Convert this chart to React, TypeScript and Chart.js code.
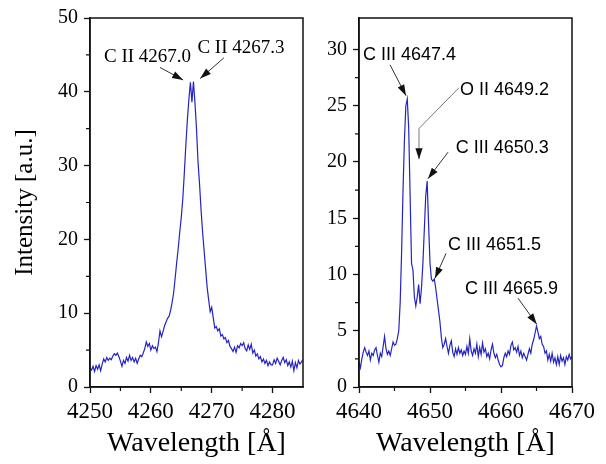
import React, { useEffect, useRef } from "react";
import { Chart, registerables } from "chart.js";

Chart.register(...registerables);

// ---------- data ----------
const LEFT_START = 4250;
const LEFT_STEP = 0.25;
const leftIntensity = [
  2.6, 2.3, 2.8, 2.1,
  2.9, 2.4, 3.0, 2.2,
  3.1, 3.8, 3.4, 4.0,
  3.6, 3.9, 3.7, 4.2,
  4.5, 4.3, 4.6, 4.1,
  3.5, 2.8, 3.6, 3.2,
  4.0, 3.5, 4.3, 3.6,
  4.0, 3.4, 3.9, 3.2,
  3.8, 4.3, 4.1, 4.6,
  5.2, 6.1, 5.5, 5.9,
  5.0, 5.6, 5.2, 5.4,
  4.8, 6.0, 7.6, 6.8,
  7.5, 8.3, 8.8, 9.3,
  9.6, 10.4, 11.5, 12.8,
  14.8, 16.9, 18.8, 21.0,
  23.0, 25.5, 29.0, 32.8,
  36.2, 39.0, 41.3, 38.6,
  41.4, 38.5, 35.0, 30.5,
  27.5, 24.0, 21.0, 18.5,
  16.0, 13.5, 11.8, 10.2,
  10.8, 9.4, 8.0, 8.2,
  7.6, 7.9, 6.9, 7.1,
  6.5, 6.7, 6.0, 6.3,
  5.5, 5.2, 4.8, 5.4,
  4.7, 5.6, 5.3, 5.9,
  5.6, 6.0, 5.2, 4.9,
  5.7, 5.1, 5.8, 4.6,
  5.0, 4.2, 4.5, 3.8,
  4.1, 3.4, 3.8, 3.2,
  3.6, 2.9, 3.4, 3.0,
  3.0, 3.7, 3.2, 3.9,
  3.5, 3.0, 3.6, 4.0,
  3.3, 3.7, 2.9, 3.4,
  2.7, 3.5, 2.2, 3.3,
  2.6, 3.6, 3.1, 3.4,
  3.7,
];

const RIGHT_START = 4640;
const RIGHT_STEP = 0.2;
const rightIntensity = [
  2.2, 1.7, 2.5, 3.1, 3.5,
  3.1, 2.8, 3.2, 2.4, 3.0,
  2.8, 3.3, 3.5, 2.8, 2.2,
  3.0, 2.7, 3.6, 4.5, 3.4,
  2.9, 3.2, 2.8, 3.4, 4.0,
  3.7, 3.8, 4.3, 5.0, 7.5,
  12.0, 17.5, 22.0, 25.0, 25.6,
  23.0, 17.0, 11.0, 10.4, 8.0,
  7.2, 8.0, 9.1, 7.4, 8.8,
  11.0, 14.0, 17.0, 18.3, 14.5,
  11.0, 9.6, 9.4, 9.6, 8.8,
  7.8, 6.8, 5.8, 4.4, 3.5,
  3.8, 4.3, 3.6, 3.0, 3.7,
  4.1, 3.1, 2.7, 3.4, 2.9,
  3.5, 3.0, 3.3, 2.8, 3.2,
  2.9, 3.6, 3.0, 4.3, 3.2,
  2.8, 3.4, 3.0, 3.8, 2.7,
  3.5, 2.9, 3.9, 3.1, 3.4,
  2.7, 3.0, 2.5, 3.3, 3.8,
  3.0, 2.6, 2.9, 2.4, 2.0,
  1.8, 1.9, 2.6, 3.0, 2.7,
  3.2, 2.9, 3.7, 4.0, 3.3,
  3.5, 3.1, 3.6, 2.8, 3.2,
  2.6, 3.0, 2.7, 2.4, 2.9,
  3.4, 3.0, 3.8, 4.2, 4.8,
  5.4, 4.9, 4.3, 4.5, 3.8,
  3.6, 3.0, 3.2, 2.4, 2.9,
  2.3, 3.0, 2.2, 2.6, 2.0,
  2.7, 2.0, 2.8, 2.3, 2.6,
  2.0, 2.7, 2.4, 2.9, 2.5,
  2.7,
];

// axis ranges and ticks
const leftXRange = [4250, 4285];
const leftYRange = [0, 50];
const leftXMinor = [4255, 4265, 4275];
const leftYMinor = [5, 15, 25, 35, 45];

const rightXRange = [4640, 4670];
const rightYRange = [0, 32.8];
const rightXMinor = [4645, 4655, 4665];
const rightYMinor = [2.5, 7.5, 12.5, 17.5, 22.5, 27.5];

// annotations (data coordinates)
const leftLabels = [
  { text: "C II 4267.0", x: 4259.45, y: 44.0 },
  { text: "C II 4267.3", x: 4274.8, y: 45.2 },
];
const leftArrows = [
  { points: [[4261.5, 43.3], [4265.3, 41.6]] },
  { points: [[4272.0, 44.6], [4268.1, 41.8]] },
];

const rightLabels = [
  { text: "C III 4647.4", x: 4640.56, y: 29.08 },
  { text: "O II 4649.2", x: 4654.23, y: 25.93 },
  { text: "C III 4650.3", x: 4653.62, y: 20.81 },
  { text: "C III 4651.5", x: 4652.54, y: 12.22 },
  { text: "C III 4665.9", x: 4654.93, y: 8.23 },
];
const rightArrows = [
  { points: [[4644.37, 28.64], [4646.62, 25.9]] },
  { points: [[4654.08, 26.6], [4648.45, 22.98], [4648.45, 20.25]], color: "#777" },
  { points: [[4652.54, 20.87], [4649.72, 18.52]] },
  { points: [[4652.25, 11.87], [4650.7, 9.66]] },
  { points: [[4662.39, 7.9], [4665.03, 5.58]] },
];

const SERIF = "'Liberation Serif', 'Times New Roman', serif";
const SANS = "'Liberation Sans', Arial, sans-serif";
const LINE_COLOR = "#2424c2";

type Panel = {
  left: number;
  width: number;
  start: number;
  step: number;
  values: number[];
  xRange: number[];
  yRange: number[];
  xStep: number;
  yStep: number;
  xMinor: number[];
  yMinor: number[];
  yWidth: number;
  padRight: number;
  yTitle: string | null;
  labels: { text: string; x: number; y: number }[];
  labelFont: string;
  labelAlign: CanvasTextAlign;
  arrows: { points: number[][]; color?: string }[];
};

const panels: Panel[] = [
  {
    left: 0,
    width: 310,
    start: LEFT_START,
    step: LEFT_STEP,
    values: leftIntensity,
    xRange: leftXRange,
    yRange: leftYRange,
    xStep: 10,
    yStep: 10,
    xMinor: leftXMinor,
    yMinor: leftYMinor,
    yWidth: 90,
    padRight: 7,
    yTitle: "Intensity [a.u.]",
    labels: leftLabels,
    labelFont: "19px " + SERIF,
    labelAlign: "center",
    arrows: leftArrows,
  },
  {
    left: 310,
    width: 296,
    start: RIGHT_START,
    step: RIGHT_STEP,
    values: rightIntensity,
    xRange: rightXRange,
    yRange: rightYRange,
    xStep: 10,
    yStep: 5,
    xMinor: rightXMinor,
    yMinor: rightYMinor,
    yWidth: 49,
    padRight: 34,
    yTitle: null,
    labels: rightLabels,
    labelFont: "18px " + SANS,
    labelAlign: "left",
    arrows: rightArrows,
  },
];

function drawArrow(ctx: CanvasRenderingContext2D, pts: number[][], color: string) {
  ctx.save();
  ctx.strokeStyle = color;
  ctx.lineWidth = 1;
  ctx.beginPath();
  ctx.moveTo(pts[0][0], pts[0][1]);
  for (let i = 1; i < pts.length; i++) ctx.lineTo(pts[i][0], pts[i][1]);
  ctx.stroke();
  const [x1, y1] = pts[pts.length - 2];
  const [x2, y2] = pts[pts.length - 1];
  const ang = Math.atan2(y2 - y1, x2 - x1);
  const len = 11;
  const half = 3.6;
  ctx.fillStyle = "#111";
  ctx.beginPath();
  ctx.moveTo(x2, y2);
  ctx.lineTo(
    x2 - len * Math.cos(ang) + half * Math.sin(ang),
    y2 - len * Math.sin(ang) - half * Math.cos(ang)
  );
  ctx.lineTo(
    x2 - len * Math.cos(ang) - half * Math.sin(ang),
    y2 - len * Math.sin(ang) + half * Math.cos(ang)
  );
  ctx.closePath();
  ctx.fill();
  ctx.restore();
}

function makeDecorPlugin(p: Panel) {
  return {
    id: "decor",
    afterDraw(chart: any) {
      const ctx: CanvasRenderingContext2D = chart.ctx;
      const { left, right, top, bottom } = chart.chartArea;
      const xs = chart.scales.x;
      const ys = chart.scales.y;
      ctx.save();
      // frame
      ctx.strokeStyle = "#111";
      ctx.lineWidth = 1.5;
      ctx.strokeRect(left, top, right - left, bottom - top);
      // minor ticks
      ctx.lineWidth = 1.2;
      ctx.beginPath();
      p.xMinor.forEach((v) => {
        const px = xs.getPixelForValue(v);
        ctx.moveTo(px, bottom);
        ctx.lineTo(px, bottom + 4);
      });
      p.yMinor.forEach((v) => {
        const py = ys.getPixelForValue(v);
        ctx.moveTo(left, py);
        ctx.lineTo(left - 4, py);
      });
      ctx.stroke();
      // labels
      ctx.fillStyle = "#000";
      ctx.font = p.labelFont;
      ctx.textAlign = p.labelAlign;
      ctx.textBaseline = "alphabetic";
      p.labels.forEach((l) => {
        ctx.fillText(l.text, xs.getPixelForValue(l.x), ys.getPixelForValue(l.y));
      });
      // arrows
      p.arrows.forEach((a) => {
        const pts = a.points.map(([x, y]) => [xs.getPixelForValue(x), ys.getPixelForValue(y)]);
        drawArrow(ctx, pts, a.color || "#333");
      });
      ctx.restore();
    },
  };
}

function buildConfig(p: Panel): any {
  const data = p.values.map((v, i) => ({ x: p.start + i * p.step, y: v }));
  return {
    type: "line",
    data: {
      datasets: [
        {
          data,
          borderColor: LINE_COLOR,
          borderWidth: 1.2,
          pointRadius: 0,
          tension: 0,
          fill: false,
        },
      ],
    },
    options: {
      responsive: false,
      animation: false,
      devicePixelRatio: 1,
      layout: { padding: { left: 0, right: p.padRight, top: 15, bottom: 0 } },
      plugins: { legend: { display: false }, tooltip: { enabled: false } },
      scales: {
        x: {
          type: "linear",
          min: p.xRange[0],
          max: p.xRange[1],
          afterFit: (s: any) => {
            s.height = 77;
          },
          ticks: {
            stepSize: p.xStep,
            includeBounds: false,
            autoSkip: false,
            maxRotation: 0,
            minRotation: 0,
            color: "#000",
            padding: 5,
            font: { family: SERIF, size: 23 },
            callback: (v: any) => String(v),
          },
          grid: {
            display: true,
            drawOnChartArea: false,
            drawTicks: true,
            tickLength: 6,
            tickColor: "#111",
            tickWidth: 1.3,
          },
          border: { display: true, color: "#111", width: 1.5 },
          title: {
            display: true,
            text: "Wavelength [Å]",
            color: "#000",
            font: { family: SERIF, size: 28 },
            padding: { top: 0, bottom: 4 },
          },
        },
        y: {
          type: "linear",
          min: p.yRange[0],
          max: p.yRange[1],
          afterFit: (s: any) => {
            s.width = p.yWidth;
          },
          ticks: {
            stepSize: p.yStep,
            includeBounds: false,
            color: "#000",
            padding: 6,
            font: { family: SERIF, size: 20 },
            callback: (v: any) => String(v),
          },
          grid: {
            display: true,
            drawOnChartArea: false,
            drawTicks: true,
            tickLength: 6,
            tickColor: "#111",
            tickWidth: 1.3,
          },
          border: { display: true, color: "#111", width: 1.5 },
          title: {
            display: !!p.yTitle,
            text: p.yTitle || "",
            color: "#000",
            font: { family: SERIF, size: 25 },
            padding: { top: 10, bottom: 0 },
          },
        },
      },
    },
    plugins: [makeDecorPlugin(p)],
  };
}

function SpectrumPanel({ panel }: { panel: Panel }) {
  const ref = useRef<HTMLCanvasElement | null>(null);
  useEffect(() => {
    if (!ref.current) return;
    const chart = new Chart(ref.current, buildConfig(panel));
    return () => chart.destroy();
  }, [panel]);
  return (
    <canvas
      ref={ref}
      width={panel.width}
      height={464}
      style={{ position: "absolute", left: panel.left, top: 0, width: panel.width, height: 464 }}
    />
  );
}

export default function App() {
  return (
    <div
      style={{
        position: "absolute",
        left: 0,
        top: 0,
        width: 606,
        height: 464,
        background: "#fff",
        overflow: "hidden",
      }}
    >
      {panels.map((p, i) => (
        <SpectrumPanel key={i} panel={p} />
      ))}
    </div>
  );
}
